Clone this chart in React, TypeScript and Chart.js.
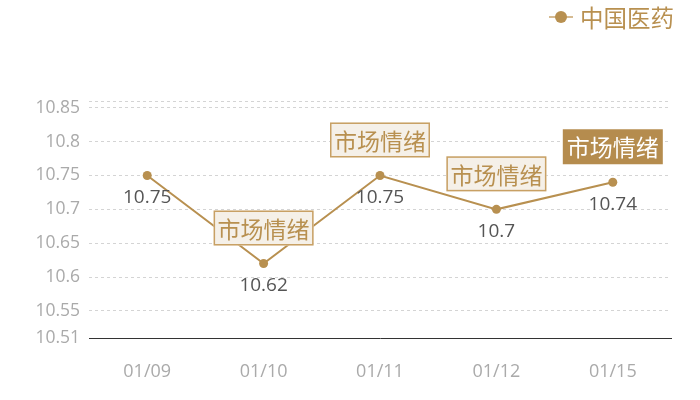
import React, { useEffect, useRef } from "react";
import { Chart, registerables } from "chart.js";

Chart.register(...registerables);

const categories = ["01/09", "01/10", "01/11", "01/12", "01/15"];
const values = [10.75, 10.62, 10.75, 10.7, 10.74];
const yTicks = [10.51, 10.55, 10.6, 10.65, 10.7, 10.75, 10.8, 10.85, 10.86];
const yMin = 10.51;
const yMax = 10.86;
const seriesName = "中国医药";
const calloutText = "市场情绪";
const calloutShown = [false, true, true, true, true];
const calloutDark = [false, false, false, false, true];

const GOLD = "rgb(184,144,80)";
const NUM_FONT = '"Open Sans", sans-serif';
const CJK_FONT = '"Noto Sans CJK SC", sans-serif';

const overlayPlugin = {
  id: "overlay",
  afterDatasetsDraw(chart: any) {
    const ctx = chart.ctx;
    const meta = chart.getDatasetMeta(0);
    ctx.save();
    // value labels
    meta.data.forEach((pt: any, i: number) => {
      ctx.font = `19px ${NUM_FONT}`;
      ctx.fillStyle = "#555";
      ctx.textAlign = "center";
      ctx.textBaseline = "middle";
      ctx.fillText(String(values[i]), pt.x, pt.y + 22);
    });
    // callouts
    meta.data.forEach((pt: any, i: number) => {
      if (!calloutShown[i]) return;
      const w = 100;
      const h = 35;
      const bx = pt.x - w / 2;
      const by = pt.y - 18 - h;
      const dark = calloutDark[i];
      ctx.fillStyle = dark ? "rgb(181,140,78)" : "rgb(245,240,232)";
      ctx.fillRect(bx, by, w, h);
      if (!dark) {
        ctx.strokeStyle = "rgb(200,160,100)";
        ctx.lineWidth = 1.5;
        ctx.strokeRect(bx + 0.75, by + 0.75, w - 1.5, h - 1.5);
      }
      ctx.font = `23px ${CJK_FONT}`;
      ctx.fillStyle = dark ? "#fff" : GOLD;
      ctx.textAlign = "center";
      ctx.textBaseline = "middle";
      ctx.fillText(calloutText, pt.x, by + h / 2 + 1);
    });
    ctx.restore();
  },
  afterDraw(chart: any) {
    const ctx = chart.ctx;
    ctx.save();
    const cy = 17;
    ctx.strokeStyle = "rgb(200,165,110)";
    ctx.lineWidth = 1.5;
    ctx.beginPath();
    ctx.moveTo(549, cy);
    ctx.lineTo(573, cy);
    ctx.stroke();
    ctx.fillStyle = GOLD;
    ctx.beginPath();
    ctx.arc(561, cy, 6, 0, Math.PI * 2);
    ctx.fill();
    ctx.font = `23.5px ${CJK_FONT}`;
    ctx.textAlign = "left";
    ctx.textBaseline = "middle";
    ctx.fillText(seriesName, 580, cy + 1);
    ctx.restore();
  },
};

export default function App() {
  const ref = useRef<HTMLCanvasElement | null>(null);
  useEffect(() => {
    if (!ref.current) return;
    const chart = new Chart(ref.current, {
      type: "line",
      data: {
        labels: categories,
        datasets: [
          {
            label: seriesName,
            data: values,
            borderColor: GOLD,
            backgroundColor: GOLD,
            borderWidth: 2,
            pointRadius: 4.5,
            pointBackgroundColor: GOLD,
            pointBorderWidth: 0,
            tension: 0,
          },
        ],
      },
      options: {
        animation: false,
        responsive: true,
        maintainAspectRatio: false,
        layout: { padding: { top: 101, right: 29, left: 0, bottom: 0 } },
        plugins: {
          legend: { display: false },
          tooltip: { enabled: false },
        },
        scales: {
          x: {
            offset: true,
            grid: { display: false, drawTicks: false },
            border: { display: true, color: "#333", width: 1 },
            ticks: {
              color: "#aaa",
              font: { size: 18, family: NUM_FONT },
              padding: 23,
            },
            afterFit(scale: any) {
              scale.height = 62;
            },
          },
          y: {
            min: yMin,
            max: yMax,
            grid: {
              drawTicks: false,
              color: (c: any) =>
                c.tick && Math.abs(c.tick.value - yMin) < 1e-6 ? "rgba(0,0,0,0)" : "#d4d4d4",
              lineWidth: 1,
            },
            border: { display: false, dash: [3, 3] },
            afterBuildTicks(scale: any) {
              scale.ticks = yTicks.map((v) => ({ value: v }));
            },
            ticks: {
              color: "#aaa",
              font: { size: 17.5, family: NUM_FONT },
              padding: 9,
              autoSkip: false,
              callback: (v: any) =>
                Math.abs(Number(v) - yMax) < 1e-6 ? "" : String(Number(Number(v).toFixed(2))),
            },
            afterFit(scale: any) {
              scale.width = 89;
            },
          },
        },
      },
      plugins: [overlayPlugin],
    });
    return () => chart.destroy();
  }, []);
  return (
    <div style={{ position: "fixed", left: 0, top: 0, width: 700, height: 400, background: "#fff" }}>
      <canvas ref={ref} />
    </div>
  );
}
